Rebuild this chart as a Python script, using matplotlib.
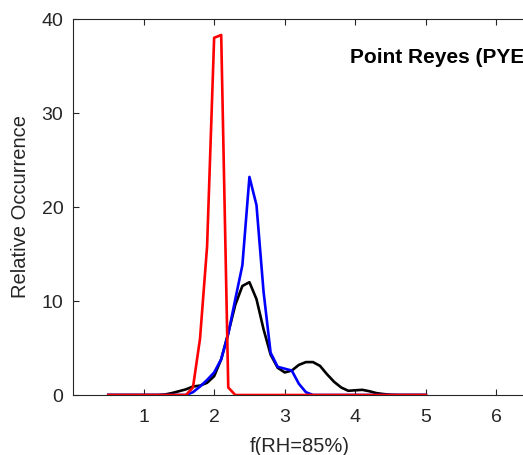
import numpy as np
import matplotlib.pyplot as plt

plt.rcParams["font.family"] = ["Liberation Sans", "DejaVu Sans"]

# f(RH=85%) bins
frh = np.round(np.arange(0.5, 5.01, 0.1), 2)

# relative occurrence per bin (0.5 .. 5.0)
all_obs = [0, 0, 0, 0, 0, 0, 0, 0, 0.05, 0.2,
           0.4, 0.6, 0.9, 1.0, 1.3, 2.0, 3.8, 6.6, 9.6, 11.6,
           12.0, 10.2, 7.0, 4.3, 2.9, 2.4, 2.6, 3.2, 3.5, 3.5,
           3.1, 2.2, 1.4, 0.8, 0.45, 0.5, 0.55, 0.4, 0.2, 0.1,
           0.03, 0, 0, 0, 0, 0]
blue_obs = [0, 0, 0, 0, 0, 0, 0, 0, 0, 0,
            0, 0, 0.3, 0.9, 1.6, 2.4, 3.8, 6.5, 10.2, 13.8,
            23.2, 20.2, 11.0, 4.5, 3.0, 2.8, 2.6, 1.2, 0.3, 0.0,
            0, 0, 0, 0, 0, 0, 0, 0, 0, 0,
            0, 0, 0, 0, 0, 0]
red_obs = [0, 0, 0, 0, 0, 0, 0, 0, 0, 0,
           0, 0, 0.8, 6.0, 15.8, 38.0, 38.3, 0.8, 0, 0,
           0, 0, 0, 0, 0, 0, 0, 0, 0, 0,
           0, 0, 0, 0, 0, 0, 0, 0, 0, 0,
           0, 0, 0, 0, 0, 0]

fig = plt.figure(figsize=(5.23, 4.55), dpi=100)
# axes run past the right edge of the figure
ax = fig.add_axes([73 / 523, 60 / 455, 494 / 523, 376 / 455])

ax.plot(frh, all_obs, color="k", lw=1.9)
ax.plot(frh, blue_obs, color="b", lw=1.9)
ax.plot(frh, red_obs, color="r", lw=1.9)

ax.text(3.92, 35.9, "Point Reyes (PYE)", fontsize=15, fontweight="bold",
        va="center", ha="left")

ax.set_xlim(0, 7)
ax.set_ylim(0, 40)
ax.set_xticks([1, 2, 3, 4, 5, 6])
ax.set_yticks([0, 10, 20, 30, 40])
ax.tick_params(direction="in", length=4, width=0.8, colors="#262626",
               labelsize=14, top=True, right=True)
ax.tick_params(axis="x", pad=10)
ax.tick_params(axis="y", pad=7)
for s in ax.spines.values():
    s.set_color("#262626")
    s.set_linewidth(0.8)

ax.set_xlabel("f(RH=85%)", fontsize=14.5, color="#262626")
ax.xaxis.set_label_coords(227 / 494, -42 / 376)
ax.set_ylabel("Relative Occurrence", fontsize=14.5, color="#262626",
              labelpad=8)

fig.savefig("out.png", dpi=100)
